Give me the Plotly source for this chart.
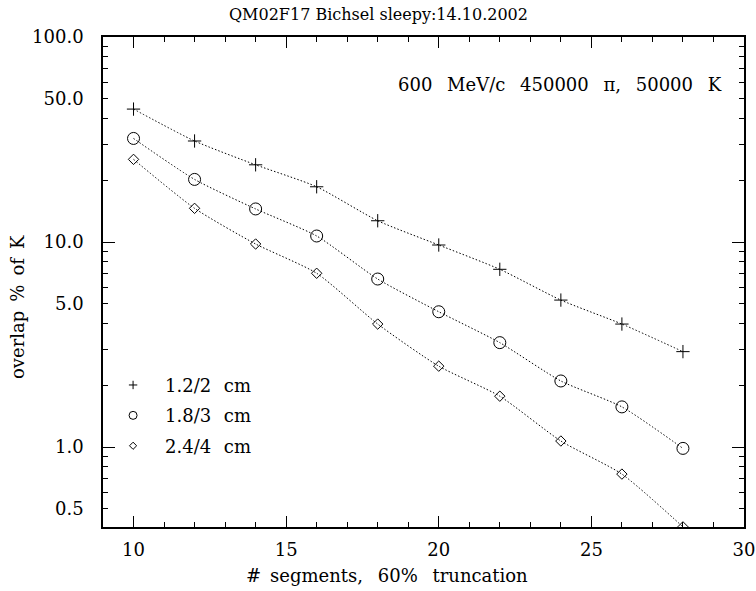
import plotly.graph_objects as go

# number of segments used in the 60% truncated mean
segments = [10, 12, 14, 16, 18, 20, 22, 24, 26, 28]

# K overlap (%) for three segment lengths
overlap_12_2 = [44.5, 31.1, 23.8, 18.6, 12.7, 9.67, 7.36, 5.21, 3.98, 2.92]
overlap_18_3 = [32.0, 20.2, 14.5, 10.7, 6.6, 4.57, 3.23, 2.10, 1.57, 0.985]
overlap_24_4 = [25.3, 14.6, 9.78, 7.04, 3.98, 2.48, 1.77, 1.07, 0.738, 0.408]

series_names = ["1.2/2\u2002\u2009cm", "1.8/3\u2002\u2009cm",
                "2.4/4\u2002\u2009cm"]
series_symbols = ["cross-thin-open", "circle-open", "diamond-open"]
series_sizes = [9.5, 12, 8]
legend_sizes = [6, 8, 5.5]

y_major = [1, 10, 100]
y_major_text = ["1.0", "10.0", "100.0"]
y_extra = [0.5, 5, 50]
y_extra_text = ["0.5", "5.0", "50.0"]
y_minor = [0.5, 0.6, 0.7, 0.8, 0.9, 2, 3, 4, 5, 6, 7, 8, 9,
           20, 30, 40, 50, 60, 70, 80, 90]

title_text = "QM02F17 Bichsel sleepy:14.10.2002"
info_text = "600\u2002 MeV/c\u2002 450000\u2002 \u03c0,\u2002 50000\u2002 K"
x_title = "#\u2002segments,\u2002 60%\u2002 truncation"
y_title = "overlap\u2002%\u2002of\u2002K"

FONT = "DejaVu Serif"
INK = "black"

fig = go.Figure()

for vals, name, sym, size in zip(
        [overlap_12_2, overlap_18_3, overlap_24_4],
        series_names, series_symbols, series_sizes):
    fig.add_trace(go.Scatter(
        x=segments, y=vals, mode="lines+markers", name=name,
        showlegend=False,
        line=dict(color=INK, width=1, dash="1.5px,2px", shape="spline",
                  smoothing=0.6),
        marker=dict(symbol=sym, size=size, color=INK,
                    line=dict(color=INK, width=1)),
    ))

# legend entries: markers only
for i, (name, sym, size) in enumerate(zip(series_names, series_symbols,
                                          legend_sizes)):
    fig.add_trace(go.Scatter(
        x=[None], y=[None], mode="markers", name=name,
        legendgroup=f"g{i}",
        marker=dict(symbol=sym, size=size, color=INK,
                    line=dict(color=INK, width=1)),
    ))

# second y axis carrying the long decade ticks
fig.add_trace(go.Scatter(x=[None], y=[None], yaxis="y2", showlegend=False,
                         hoverinfo="skip"))

y_range = [-0.39, 2.0]

fig.update_layout(
    width=756, height=591,
    margin=dict(l=103, r=12, t=37, b=64),
    paper_bgcolor="white", plot_bgcolor="white",
    font=dict(family=FONT, size=18, color=INK),
    showlegend=True,
    legend=dict(
        x=-0.003, xanchor="left", y=0.327, yanchor="top",
        bgcolor="rgba(0,0,0,0)", borderwidth=0,
        itemwidth=54, tracegroupgap=4, traceorder="grouped",
        font=dict(family=FONT, size=18, color=INK),
    ),
    xaxis=dict(
        range=[9, 30], showgrid=False, zeroline=False, automargin=False,
        showline=True, linecolor=INK, linewidth=1.5, mirror="ticks",
        ticks="inside", ticklen=11, tickwidth=1, tickcolor=INK,
        tickvals=[10, 15, 20, 25, 30],
        ticktext=["10", "15", "20", "25", "30"],
        ticklabelstandoff=6,
        tickfont=dict(family=FONT, size=18, color=INK),
        minor=dict(dtick=1, tick0=0, ticks="inside", ticklen=5,
                   tickcolor=INK, tickwidth=1, showgrid=False),
    ),
    yaxis=dict(
        type="log", range=y_range, showgrid=False, zeroline=False,
        automargin=False,
        showline=True, linecolor=INK, linewidth=1.5, mirror="ticks",
        ticks="inside", ticklen=5, tickwidth=1, tickcolor=INK,
        tickvals=y_extra + y_major, ticktext=y_extra_text + y_major_text,
        ticklabelstandoff=14,
        tickfont=dict(family=FONT, size=18, color=INK),
        minor=dict(tickmode="array", tickvals=y_minor, ticks="inside",
                   ticklen=5, tickcolor=INK, tickwidth=1, showgrid=False),
    ),
    yaxis2=dict(
        type="log", range=y_range, overlaying="y", side="left",
        automargin=False,
        showgrid=False, zeroline=False, showline=False, mirror="ticks",
        ticks="inside", ticklen=12, tickwidth=1, tickcolor=INK,
        tickvals=y_major, showticklabels=False,
    ),
)

fig.add_annotation(text=title_text, xref="paper", yref="paper",
                   x=(378 - 103) / 641, y=(527 - 15) / 490,
                   xanchor="center", yanchor="middle", showarrow=False,
                   font=dict(family=FONT, size=16, color=INK))
fig.add_annotation(text=info_text, xref="paper", yref="paper",
                   x=(724 - 103) / 641, y=(527 - 85) / 490,
                   xanchor="right", yanchor="middle", showarrow=False,
                   font=dict(family=FONT, size=18, color=INK))
fig.add_annotation(text=x_title, xref="paper", yref="paper",
                   x=(387 - 103) / 641, y=(527 - 575) / 490,
                   xanchor="center", yanchor="middle", showarrow=False,
                   font=dict(family=FONT, size=18, color=INK))
fig.add_annotation(text=y_title, xref="paper", yref="paper",
                   x=(17 - 103) / 641, y=(527 - 307) / 490,
                   xanchor="center", yanchor="middle", showarrow=False,
                   textangle=-90,
                   font=dict(family=FONT, size=18, color=INK))

fig.write_html("out.html")
